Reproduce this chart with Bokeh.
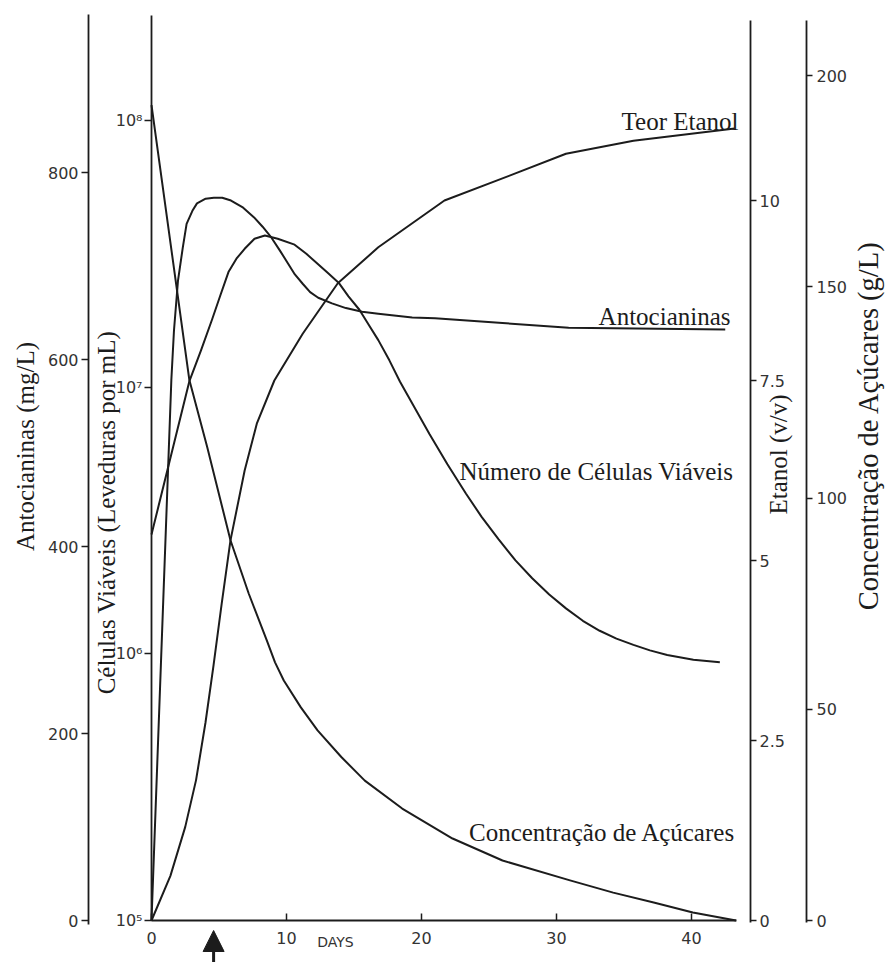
import math
from bokeh.plotting import figure
from bokeh.models import (Range1d, LinearAxis, LogAxis, LogScale, FixedTicker,
                          Label, Arrow, NormalHead)
from bokeh.embed import file_html
from bokeh.resources import INLINE

# ---------------- data ----------------
anto_days = [0, 1.47, 1.665, 1.96, 2.32, 2.6, 3.03, 3.37, 4.01, 4.62, 5.24,
             5.89, 6.73, 7.6, 8.23, 8.9, 9.49, 10.1, 10.62, 11.2, 11.75, 12.35,
             13.37, 14.4, 15.6, 16.8, 19.31, 21.0, 26.0, 30.9, 42.5]
anto_vals = [0, 578, 631, 684, 720, 745, 759, 767, 772, 773, 773,
             770, 763, 752, 742, 730, 717, 703, 691, 681, 672, 666,
             660, 655, 651, 649, 645, 644, 639, 634, 632]      # mg/L

cell_days = [0, 2.8, 3.66, 4.5, 5.09, 5.7, 6.29, 6.9, 7.63, 8.4, 9.35, 10.6,
             11.47, 12.3, 13.09, 13.9, 14.59, 15.4, 16.1, 16.8, 17.62, 18.4,
             20.6, 21.92, 23.3, 24.44, 25.7, 26.96, 28.2, 29.46, 30.7, 31.95,
             33.2, 34.44, 35.7, 36.92, 38.2, 40.14, 42.1]
cell_vals = [2.8e6, 1.05e7, 1.37e7, 1.8e7, 2.2e7, 2.7e7, 3.03e7, 3.3e7, 3.6e7,
             3.7e7, 3.6e7, 3.42e7, 3.16e7, 2.9e7, 2.67e7, 2.45e7, 2.19e7,
             1.95e7, 1.71e7, 1.5e7, 1.26e7, 1.05e7, 6.65e6, 5.14e6, 3.98e6,
             3.27e6, 2.69e6, 2.24e6, 1.92e6, 1.67e6, 1.48e6, 1.33e6, 1.22e6,
             1.14e6, 1.08e6, 1.03e6, 9.9e5, 9.5e5, 9.3e5]       # leveduras / mL

eta_days = [0, 1.4, 2.5, 3.3, 4.0, 4.6, 5.2, 5.85, 6.9, 7.8, 9.1, 11.2, 13.8,
            16.8, 21.7, 25.9, 30.7, 35.7, 43.2]
eta_vals = [0, 0.62, 1.3, 1.95, 2.75, 3.55, 4.4, 5.28, 6.25, 6.9, 7.5, 8.15,
            8.85, 9.35, 10.0, 10.3, 10.65, 10.83, 11.0]         # % v/v

sug_days = [0, 2.8, 4.13, 5.85, 7.2, 8.54, 9.15, 9.8, 11.05, 12.3, 14.06, 15.8,
            18.57, 22.3, 26.0, 31.0, 34.2, 37.2, 40.1, 43.3]
sug_vals = [193, 128, 112, 90, 77.4, 66.3, 61.1, 56.8, 50.5, 45.0, 38.7, 33.1,
            26.5, 19.4, 14.2, 9.5, 6.6, 4.26, 1.9, 0]           # g/L

anto_ticks = [0, 200, 400, 600, 800]
cell_ticks = [1e5, 1e6, 1e7, 1e8]
cell_tick_labels = ["10⁵", "10⁶", "10⁷", "10⁸"]
eta_ticks = [0, 2.5, 5, 7.5, 10]
eta_tick_labels = ["0", "2.5", "5", "7.5", "10"]
sug_ticks = [0, 50, 100, 150, 200]
day_ticks = [0, 10, 20, 30, 40]
arrow_day = 4.6

# ---------------- layout (pixels of the 886 x 962 canvas) ----------------
W, H = 886, 962
X0, PX_DAY = 151, 13.5            # x pixel of day 0, pixels per day
Y0 = 920                          # y pixel of the zero line
PX_ANTO, PX_DEC, PX_ETA, PX_SUG = 0.935, 266.7, 72.0, 4.225


def day_at(px):
    return (px - X0) / PX_DAY


def anto_at(py):
    return (Y0 - py) / PX_ANTO


INK = "#1c1c1c"
TICKFONT = "DejaVu Sans"
SERIF = "Liberation Serif"

p = figure(width=W, height=H, output_backend="svg", toolbar_location=None,
           x_range=Range1d(day_at(0), day_at(W)),
           y_range=Range1d(anto_at(H), anto_at(0)),
           x_axis_location=None, y_axis_location=None,
           min_border=0, min_border_left=0, min_border_right=0,
           min_border_top=0, min_border_bottom=0)
p.extra_y_ranges = {
    "cells": Range1d(10 ** (5 - (H - Y0) / PX_DEC), 10 ** (5 + Y0 / PX_DEC)),
    "eta": Range1d(-(H - Y0) / PX_ETA, Y0 / PX_ETA),
    "acu": Range1d(-(H - Y0) / PX_SUG, Y0 / PX_SUG),
}
p.extra_y_scales = {"cells": LogScale()}
p.grid.visible = False
p.outline_line_color = None
p.background_fill_color = "white"
p.border_fill_color = "white"


def style(ax, tick_out, tick_in, lab_stand):
    ax.axis_line_color = INK
    ax.axis_line_width = 1.8
    ax.major_tick_line_color = INK
    ax.major_tick_line_width = 1.5
    ax.major_tick_out = tick_out
    ax.major_tick_in = tick_in
    ax.minor_tick_line_color = None
    ax.major_label_text_font = TICKFONT
    ax.major_label_text_font_size = "16px"
    ax.major_label_text_color = "#333333"
    ax.major_label_standoff = lab_stand


anto_ax = LinearAxis(ticker=FixedTicker(ticks=anto_ticks),
                     fixed_location=day_at(88), bounds=(anto_at(924), anto_at(14)))
style(anto_ax, 7, 0, 3)
p.add_layout(anto_ax, "left")

cell_ax = LogAxis(y_range_name="cells", ticker=FixedTicker(ticks=cell_ticks),
                  major_label_overrides=dict(zip(cell_ticks, cell_tick_labels)),
                  fixed_location=0, bounds=(1e5, 10 ** (5 + (Y0 - 15) / PX_DEC)))
style(cell_ax, 7, 0, 2)
p.add_layout(cell_ax, "left")

eta_ax = LinearAxis(y_range_name="eta", ticker=FixedTicker(ticks=eta_ticks),
                    major_label_overrides=dict(zip(eta_ticks, eta_tick_labels)),
                    fixed_location=day_at(750),
                    bounds=(-(922 - Y0) / PX_ETA, (Y0 - 20) / PX_ETA))
style(eta_ax, 6, 0, 3)
p.add_layout(eta_ax, "right")

sug_ax = LinearAxis(y_range_name="acu", ticker=FixedTicker(ticks=sug_ticks),
                    fixed_location=day_at(806),
                    bounds=(-(922 - Y0) / PX_SUG, (Y0 - 20) / PX_SUG))
style(sug_ax, 6, 0, 4)
p.add_layout(sug_ax, "right")

x_ax = LinearAxis(ticker=FixedTicker(ticks=day_ticks), fixed_location=0,
                  bounds=(0, 43.3))
style(x_ax, 0, 7, 11)
x_ax.axis_line_width = 2
p.add_layout(x_ax, "below")

# ---------------- curves ----------------
lw = 2
p.line(anto_days, anto_vals, line_color=INK, line_width=lw, line_join="round")
p.line(cell_days, cell_vals, y_range_name="cells", line_color=INK, line_width=lw,
       line_join="round")
p.line(eta_days, eta_vals, y_range_name="eta", line_color=INK, line_width=lw,
       line_join="round")
p.line(sug_days, sug_vals, y_range_name="acu", line_color=INK, line_width=lw,
       line_join="round")


# ---------------- texts ----------------
def text(px, py, txt, align="right", baseline="alphabetic", angle=0.0,
         font=SERIF, size="25px", color=INK):
    p.add_layout(Label(x=day_at(px), y=anto_at(py), text=txt, angle=angle,
                       text_align=align, text_baseline=baseline,
                       text_font=font, text_font_size=size, text_color=color))


text(738, 121, "Teor Etanol")
text(730, 316, "Antocianinas")
text(733, 471, "Número de Células Viáveis")
text(735, 832, "Concentração de Açúcares")

text(25, 446, "Antocianinas (mg/L)", "center", "middle", math.pi / 2)
text(106, 512, "Células Viáveis (Leveduras por mL)", "center", "middle", math.pi / 2)
text(778, 454, "Etanol (v/v)", "center", "middle", math.pi / 2)
text(868, 425, "Concentração de Açúcares (g/L)", "center", "middle", math.pi / 2,
     size="28.5px")

text(335, 941, "DAYS", "center", "middle", font=TICKFONT, size="14px",
     color="#333333")

p.add_layout(Arrow(end=NormalHead(size=21, fill_color=INK, line_color=INK),
                   x_start=arrow_day, y_start=anto_at(H + 2),
                   x_end=arrow_day, y_end=anto_at(930),
                   line_width=3, line_color=INK))

open("out.html", "w").write(file_html(p, INLINE))
